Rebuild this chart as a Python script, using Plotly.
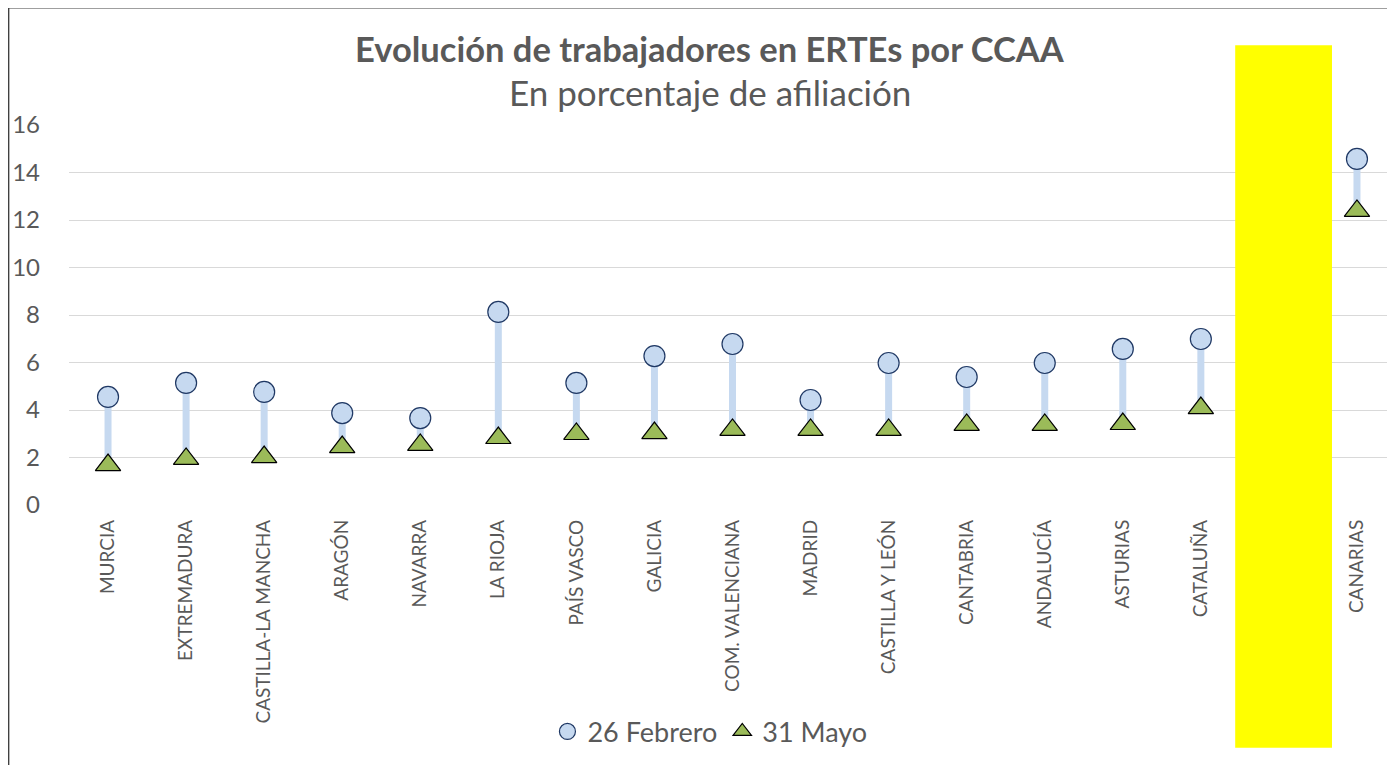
import plotly.graph_objects as go

# Comunidades autónomas (slot vacío antes de Canarias)
regiones = ["MURCIA", "EXTREMADURA", "CASTILLA-LA MANCHA", "ARAGÓN", "NAVARRA",
            "LA RIOJA", "PAÍS VASCO", "GALICIA", "COM. VALENCIANA", "MADRID",
            "CASTILLA Y LEÓN", "CANTABRIA", "ANDALUCÍA", "ASTURIAS", "CATALUÑA",
            "CANARIAS"]
orden_eje = regiones[:15] + [" "] + regiones[15:]

feb_26 = [4.55, 5.14, 4.76, 3.87, 3.66, 8.13, 5.14, 6.27, 6.78, 4.42,
          5.98, 5.39, 5.98, 6.57, 6.99, 14.57]
may_31 = [1.68, 1.94, 2.02, 2.44, 2.53, 2.82, 2.99, 3.03, 3.16, 3.16,
          3.16, 3.37, 3.37, 3.41, 4.08, 12.38]

font_main = "Lato, 'Open Sans', sans-serif"
gris = "#595959"

# lineas que unen los dos puntos
lx, ly = [], []
for r, a, b in zip(regiones, feb_26, may_31):
    lx += [r, r, None]
    ly += [a, b, None]

fig = go.Figure()
fig.add_trace(go.Scatter(x=lx, y=ly, mode="lines", showlegend=False,
                         line=dict(color="#C6D9F0", width=7), hoverinfo="skip"))
fig.add_trace(go.Scatter(x=regiones, y=feb_26, mode="markers", name="26 Febrero",
                         marker=dict(symbol="circle", size=21, color="#C6D9F0",
                                     line=dict(color="#1F3864", width=1.2))))
fig.add_trace(go.Scatter(x=regiones, y=may_31, mode="markers", name="31 Mayo",
                         marker=dict(symbol="triangle-up", size=22, color="#9BBB59",
                                     line=dict(color="#000000", width=1.2))))

# franja amarilla
fig.add_shape(type="rect", xref="x", yref="paper", x0=14.44, x1=15.68,
              y0=-0.639, y1=1.21, fillcolor="#FFFF00", line=dict(width=0),
              layer="above")
# marco del gráfico
fig.add_shape(type="line", xref="paper", yref="paper", x0=-0.0455, x1=-0.0455,
              y0=-0.7, y1=1.3085, line=dict(color="#404040", width=1.5))
fig.add_shape(type="line", xref="paper", yref="paper", x0=-0.0455, x1=1.01,
              y0=1.3085, y1=1.3085, line=dict(color="#404040", width=1.5))

fig.add_annotation(text="<b>Evolución de trabajadores en ERTEs por CCAA</b>",
                   xref="paper", yref="paper", x=0.483, y=1.202, showarrow=False,
                   xanchor="center", yanchor="middle",
                   font=dict(family=font_main, size=34.5, color=gris))
fig.add_annotation(text="En porcentaje de afiliación",
                   xref="paper", yref="paper", x=0.483, y=1.088, showarrow=False,
                   xanchor="center", yanchor="middle",
                   font=dict(family=font_main, size=35, color=gris))

fig.update_layout(
    width=1395, height=765,
    margin=dict(l=61, r=7, t=117, b=268, autoexpand=False),
    paper_bgcolor="white", plot_bgcolor="white",
    font=dict(family=font_main, color=gris),
    legend=dict(orientation="h", x=0.483, y=-0.597, xanchor="center",
                yanchor="middle", font=dict(size=27, color=gris),
                bgcolor="rgba(0,0,0,0)"),
    xaxis=dict(type="category", categoryorder="array", categoryarray=orden_eje,
               range=[-0.5, 16.5], tickangle=-90, showgrid=False,
               showline=False, ticks="", ticklabelstandoff=10,
               tickfont=dict(size=19, color=gris)),
    yaxis=dict(range=[0, 16], dtick=2, showgrid=True, gridcolor="#D9D9D9",
               gridwidth=1, zeroline=False, showline=False, ticks="",
               ticklabelstandoff=28, tickfont=dict(size=24, color=gris)),
)

fig.write_html("out.html")
